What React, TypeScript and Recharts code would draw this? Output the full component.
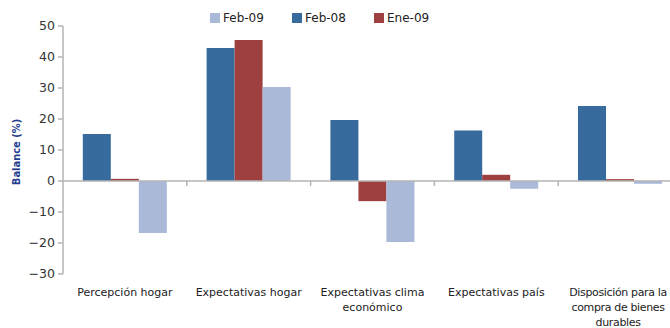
import React from 'react';
import { BarChart, Bar, XAxis, YAxis, ReferenceLine, Legend } from 'recharts';

const categories = [
  'Percepción hogar',
  'Expectativas hogar',
  'Expectativas clima\neconómico',
  'Expectativas país',
  'Disposición para la\ncompra de bienes\ndurables',
];
const feb08 = [15.2, 42.9, 19.7, 16.3, 24.2];
const ene09 = [0.7, 45.5, -6.5, 2.0, 0.6];
const feb09 = [-16.8, 30.3, -19.7, -2.5, -0.9];
const yTicks = [-30, -20, -10, 0, 10, 20, 30, 40, 50];
const legendOrder = ['Feb-09', 'Feb-08', 'Ene-09'];

const COLORS: Record<string, string> = {
  'Feb-08': '#376A9D',
  'Ene-09': '#9E403F',
  'Feb-09': '#AAB9D8',
};

const data = categories.map((c, i) => ({
  name: c,
  'Feb-08': feb08[i],
  'Ene-09': ene09[i],
  'Feb-09': feb09[i],
}));

const AXIS = '#B4B4B4';
const FONT = '"DejaVu Sans", sans-serif';

const fmt = (v: number) => (v < 0 ? '\u2212' + Math.abs(v) : String(v));

const XTick = (props: any) => {
  const { x, y, payload, index } = props;
  const lines = String(payload.value).split('\n');
  const isLast = index === categories.length - 1;
  return (
    <text
      x={x}
      y={y}
      textAnchor="middle"
      style={{ fontFamily: FONT, fontSize: 11, fill: '#222', letterSpacing: isLast ? -0.35 : 0 }}
    >
      {lines.map((l, i) => (
        <tspan key={i} x={x - (isLast ? 2 : 0)} dy={i === 0 ? 12 : 15.2}>
          {l}
        </tspan>
      ))}
    </text>
  );
};

const ZeroLine = (props: any) => {
  const { x1, y1, x2 } = props;
  const n = categories.length;
  const w = (x2 - x1) / n;
  const ticks = [];
  for (let i = 1; i < n; i++) {
    const tx = x1 + i * w;
    ticks.push(<line key={i} x1={tx} y1={y1} x2={tx} y2={y1 + 5} stroke={AXIS} strokeWidth={1.5} />);
  }
  return (
    <g>
      <line x1={x1} y1={y1} x2={x2} y2={y1} stroke={AXIS} strokeWidth={1.5} />
      {ticks}
    </g>
  );
};

const LegendContent = () => (
  <div style={{ display: 'flex', fontFamily: FONT, fontSize: 12, color: '#222' }}>
    {legendOrder.map((k) => (
      <div key={k} style={{ display: 'flex', alignItems: 'center', width: 82 }}>
        <span style={{ display: 'inline-block', width: 10, height: 10, background: COLORS[k], marginRight: 3 }} />
        <span>{k}</span>
      </div>
    ))}
  </div>
);

const YLabel = (props: any) => {
  const { viewBox } = props;
  const cx = viewBox.x + 16;
  const cy = viewBox.y + viewBox.height / 2 + 2;
  return (
    <text
      x={cx}
      y={cy}
      transform={`rotate(-90 ${cx} ${cy})`}
      textAnchor="middle"
      dominantBaseline="central"
      style={{ fontFamily: '"DejaVu Sans Condensed", "Liberation Sans", sans-serif', fontWeight: 'bold', fontSize: 11, fill: '#223C8F' }}
    >
      Balance (%)
    </text>
  );
};

export default function App() {
  return (
    <div style={{ position: 'fixed', left: 0, top: 0, width: 670, height: 328, overflow: 'hidden', background: '#fff' }}>
      <BarChart
        width={700}
        height={328}
        data={data}
        margin={{ top: 26, right: 18, bottom: 0, left: 0 }}
        barCategoryGap="16%"
        barGap={0}
      >
        <Legend
          verticalAlign="middle"
          layout="horizontal"
          content={<LegendContent />}
          wrapperStyle={{ top: 11, left: 210, width: 300 }}
        />
        <XAxis
          dataKey="name"
          height={54}
          axisLine={false}
          tickLine={false}
          interval={0}
          tick={<XTick />}
          tickMargin={4}
        />
        <YAxis
          width={63}
          domain={[-30, 50]}
          ticks={yTicks}
          interval={0}
          tickFormatter={fmt}
          axisLine={{ stroke: AXIS, strokeWidth: 1.5 }}
          tickLine={{ stroke: AXIS, strokeWidth: 1.5 }}
          tickSize={5}
          tickMargin={3}
          tick={{ fontFamily: FONT, fontSize: 12.5, fill: '#333' }}
          label={<YLabel />}
        />
        <ReferenceLine y={0} shape={<ZeroLine />} />
        <Bar dataKey="Feb-08" fill={COLORS['Feb-08']} isAnimationActive={false} />
        <Bar dataKey="Ene-09" fill={COLORS['Ene-09']} isAnimationActive={false} />
        <Bar dataKey="Feb-09" fill={COLORS['Feb-09']} isAnimationActive={false} />
      </BarChart>
    </div>
  );
}
